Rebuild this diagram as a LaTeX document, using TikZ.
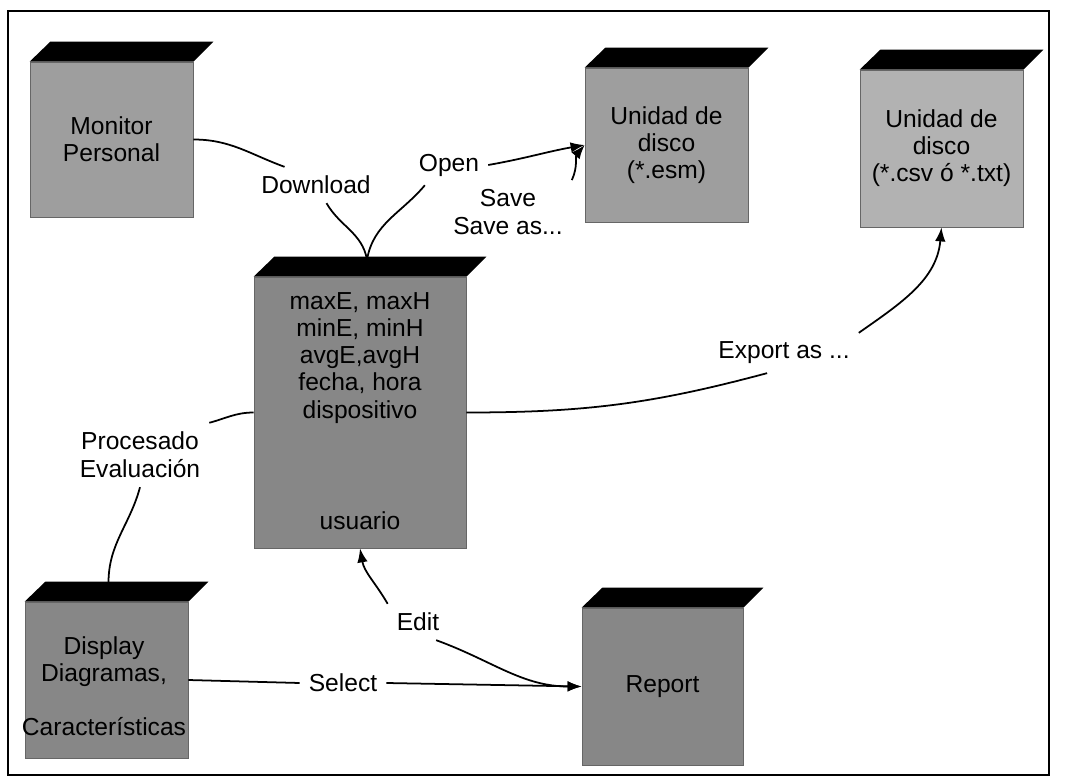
\documentclass[tikz,border=0pt]{standalone}
\usepackage{fontspec}
\setmainfont{Liberation Sans}
\usetikzlibrary{arrows.meta}

\begin{document}
\begin{tikzpicture}[x=0.02cm, y=-0.02cm,
  every node/.style={font=\fontsize{14}{16}\selectfont},
  facebox/.style={draw=black!60, line width=0.4pt, inner sep=0pt},
  boxtext/.style={align=center, font=\fontsize{14}{15.4}\selectfont},
  lbl/.style={align=center, inner sep=5pt},
  link/.style={line width=1pt},
  arr/.style={link, -{Latex[length=8pt,width=6pt]}}]
  % Define box shades
  \definecolor{boxlight}{gray}{0.70}
  \definecolor{boxmid}{gray}{0.62}
  \definecolor{boxdark}{gray}{0.53}

  \useasboundingbox (0,0) rectangle (1069,784);
  \draw[line width=1.2pt] (8,11) rectangle (1049,775);

  % Draw the boxes with their black tops
  \foreach \name/\cx/\cy/\w/\h/\shade in {monitor/111.5/139.5/163/155/boxmid,
      central/360/412.5/212/271/boxdark, esmdisk/666.5/145/163/154/boxmid,
      csvdisk/941.5/148.5/163/157/boxlight, display/106.5/680/163/156/boxdark,
      report/662.5/686.5/161/157/boxdark} {
    \node[facebox, fill=\shade, minimum width=\w*0.02cm, minimum height=\h*0.02cm]
      (\name) at (\cx,\cy) {};
    \fill[black] (\name.north west) -- (\name.north east) -- ++(20,-20)
      -- ++(-\w,0) -- cycle;
  }

  % Texts on the boxes
  \node[boxtext] (monitorTxt) at (monitor) {Monitor\\Personal};
  \node[boxtext] (esmTxt) at (esmdisk) {Unidad de\\disco\\(*.esm)};
  \node[boxtext] (csvTxt) at (csvdisk) {Unidad de\\disco\\(*.csv ó *.txt)};
  \node[boxtext] (centralTxt) at (360,358) {maxE, maxH\\minE, minH\\avgE,avgH\\fecha, hora\\dispositivo};
  \node[boxtext] (userTxt) at (360,521) {usuario};
  \node[boxtext] (displayTxt) at (104,686) {Display\\Diagramas,\\[15.4pt]Características};
  \node[boxtext] (reportTxt) at (report) {Report};

  % Labels of the connectors
  \node[lbl] (lblDownload) at (316,185) {Download};
  \node[lbl] (lblOpen) at (449,165) {Open};
  \node[lbl] (lblSave) at (508,212) {Save\\Save as...};
  \node[lbl] (lblExport) at (784,353) {Export as ...};
  \node[lbl] (lblProc) at (140,455) {Procesado\\Evaluación};
  \node[lbl] (lblEdit) at (418,622) {Edit};
  \node[lbl] (lblSelect) at (343,683) {Select};

  \path (central.north) ++(7,-17) coordinate (centralTop);
  \path (display.north) ++(2,-19) coordinate (displayTop);

  % Connectors
  \draw[link] (monitor.east) to[out=0, in=160] (lblDownload.150);
  \draw[link] (lblDownload.-60) to[out=-60, in=100] (centralTop);
  \draw[link] (lblOpen.-140) to[out=-130, in=80] (centralTop);
  \draw[arr] (lblOpen.east) to[out=10, in=190] (esmdisk.west);
  \draw[arr] (lblSave.north east) to[out=65, in=-130] (esmdisk.west);
  \draw[link] (central.east) to[out=0, in=195] (lblExport.-130);
  \draw[arr] (lblExport.north east) to[out=35, in=-95] (csvdisk.south);
  \draw[link] (central.west) to[out=180, in=15] (lblProc.north east);
  \draw[link] (lblProc.south) to[out=-105, in=90] (displayTop);
  \draw[arr] (lblEdit.north west) to[out=120, in=-80] (central.south);
  \draw[arr] (lblEdit.-45) to[out=-20, in=180] (report.west);
  \draw[link] (display.east) -- (lblSelect.west);
  \draw[arr] (lblSelect.east) -- (report.west);
\end{tikzpicture}
\end{document}
